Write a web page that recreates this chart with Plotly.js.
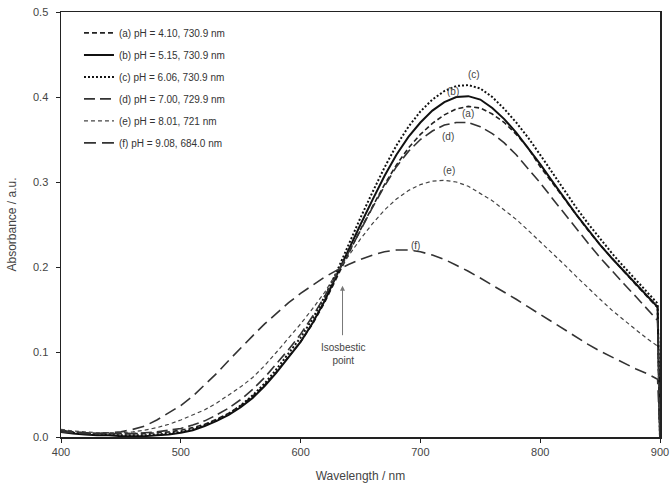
<!DOCTYPE html>
<html>
<head>
<meta charset="utf-8">
<script src="https://cdn.plot.ly/plotly-3.0.1.min.js"></script>
<style>html,body{margin:0;padding:0;background:#fff;}#chart{width:671px;height:483px;}</style>
</head>
<body>
<div id="chart"></div>
<script>
// Wavelength grid (nm)
const wavelength = [400,410,420,430,440,450,460,470,480,490,500,510,520,530,540,550,560,570,580,590,600,610,620,630,640,650,660,670,680,690,700,710,720,730,740,750,760,770,780,790,800,810,820,830,840,850,860,870,880,890,898,900];

// (a) pH 4.10
const absA = [0.008,0.006,0.005,0.004,0.004,0.004,0.004,0.004,0.005,0.006,0.008,0.011,0.015,0.021,0.028,0.037,0.048,0.061,0.077,0.094,0.112,0.133,0.158,0.187,0.216,0.244,0.271,0.297,0.320,0.340,0.356,0.369,0.379,0.386,0.389,0.387,0.380,0.370,0.356,0.340,0.318,0.299,0.280,0.261,0.243,0.226,0.210,0.194,0.179,0.164,0.152,0];
// (b) pH 5.15
const absB = [0.006,0.004,0.003,0.002,0.002,0.001,0.001,0.001,0.002,0.003,0.005,0.008,0.013,0.019,0.026,0.035,0.046,0.060,0.076,0.094,0.112,0.134,0.160,0.190,0.221,0.250,0.279,0.307,0.332,0.353,0.370,0.384,0.394,0.400,0.401,0.397,0.387,0.374,0.358,0.340,0.321,0.301,0.281,0.262,0.244,0.226,0.210,0.195,0.180,0.166,0.153,0];
// (c) pH 6.06
const absC = [0.007,0.005,0.004,0.003,0.003,0.002,0.002,0.002,0.003,0.004,0.006,0.009,0.014,0.020,0.027,0.037,0.049,0.063,0.080,0.098,0.117,0.139,0.165,0.194,0.227,0.258,0.288,0.317,0.343,0.365,0.383,0.397,0.407,0.413,0.414,0.410,0.400,0.386,0.370,0.352,0.332,0.311,0.290,0.270,0.251,0.233,0.216,0.200,0.185,0.170,0.157,0];
// (d) pH 7.00
const absD = [0.008,0.006,0.005,0.004,0.004,0.004,0.004,0.005,0.006,0.008,0.010,0.014,0.019,0.026,0.034,0.044,0.056,0.070,0.086,0.103,0.121,0.142,0.165,0.191,0.216,0.243,0.270,0.295,0.318,0.336,0.350,0.360,0.367,0.370,0.370,0.365,0.357,0.346,0.332,0.316,0.299,0.281,0.263,0.245,0.228,0.211,0.195,0.180,0.165,0.150,0.137,0];
// (e) pH 8.01
const absE = [0.009,0.007,0.006,0.005,0.005,0.005,0.006,0.008,0.011,0.015,0.020,0.026,0.032,0.040,0.049,0.059,0.070,0.084,0.100,0.116,0.133,0.151,0.170,0.193,0.213,0.233,0.251,0.267,0.280,0.290,0.297,0.301,0.302,0.300,0.295,0.287,0.278,0.267,0.256,0.243,0.230,0.217,0.203,0.189,0.175,0.162,0.149,0.137,0.126,0.115,0.107,0];
// (f) pH 9.08
const absF = [0.006,0.005,0.004,0.004,0.005,0.006,0.009,0.013,0.020,0.028,0.037,0.048,0.061,0.075,0.090,0.105,0.119,0.133,0.146,0.158,0.169,0.179,0.188,0.196,0.203,0.209,0.214,0.218,0.220,0.220,0.218,0.214,0.209,0.202,0.195,0.187,0.179,0.171,0.162,0.153,0.144,0.135,0.126,0.117,0.109,0.101,0.094,0.087,0.080,0.074,0.068,0];

const seriesNames = ["(a) pH = 4.10, 730.9 nm","(b) pH = 5.15, 730.9 nm","(c) pH = 6.06, 730.9 nm","(d) pH = 7.00, 729.9 nm","(e) pH = 8.01, 721 nm","(f) pH = 9.08, 684.0 nm"];
const curveLabels = ["(a)","(b)","(c)","(d)","(e)","(f)"];
const labelX = [739.5,727,744.5,722.7,723.6,696];
const labelY = [0.381,0.406,0.427,0.354,0.313,0.225];

const xTicks = [400,500,600,700,800,900];
const yTicks = [0.0,0.1,0.2,0.3,0.4,0.5];

const isoX = 635;
const isoTipY = 0.178;
const isoTailY = 0.118;
const isoTextY = 0.098;

const ys = [absA,absB,absC,absD,absE,absF];
const styles = [
  {color:'#222', width:1.6, dash:'5px,3px'},
  {color:'#111', width:2.0, dash:'solid'},
  {color:'#111', width:2.0, dash:'2px,2px'},
  {color:'#333', width:1.6, dash:'11px,5px'},
  {color:'#444', width:1.2, dash:'4px,3px'},
  {color:'#333', width:1.6, dash:'12px,6px'}
];

const traces = ys.map((y,i)=>({
  x: wavelength, y: y, type:'scatter', mode:'lines',
  name: seriesNames[i], legendgroup: 'g'+i,
  line: Object.assign({shape:'linear'}, styles[i]),
  hoverinfo:'skip'
}));

const FF = 'Liberation Sans, Arial, sans-serif';
const annotations = curveLabels.map((t,i)=>({
  x: labelX[i], y: labelY[i], xref:'x', yref:'y', text:t, showarrow:false,
  font:{family:FF, size:10, color:'#444'}
}));
annotations.push({
  x: isoX, y: isoTipY, ax: isoX, ay: isoTailY, xref:'x', yref:'y', axref:'x', ayref:'y',
  text:'', showarrow:true, arrowhead:2, arrowsize:1, arrowwidth:1, arrowcolor:'#777'
});
annotations.push({
  x: isoX, y: isoTextY, xref:'x', yref:'y', text:'Isosbestic<br>point', showarrow:false,
  font:{family:FF, size:10, color:'#444'}
});

const layout = {
  width:671, height:483,
  margin:{l:61, r:11, t:12, b:46},
  paper_bgcolor:'#fff', plot_bgcolor:'#fff',
  font: {family:FF, size:11, color:'#444'},
  showlegend:true,
  legend:{x:0.03, y:0.985, xanchor:'left', yanchor:'top', bgcolor:'rgba(0,0,0,0)',
    font:{family:FF, size:10, color:'#333'},
    traceorder:'grouped', tracegroupgap:3, itemwidth:30},
  xaxis:{range:[400,900], tickvals:xTicks, ticktext:xTicks.map(String), ticks:'outside', ticklen:4,
    tickcolor:'#222', showline:true, linecolor:'#222', linewidth:1.5, mirror:true,
    showgrid:false, zeroline:false,
    title:{text:'Wavelength / nm', font:{family:FF, size:12, color:'#444'}, standoff:17}},
  yaxis:{range:[0,0.5], tickvals:yTicks, ticktext:yTicks.map(v=>v.toFixed(1)), ticks:'outside', ticklen:4,
    ticklabelstandoff:5,
    tickcolor:'#222', showline:true, linecolor:'#222', linewidth:1.5, mirror:true,
    showgrid:false, zeroline:false,
    title:{text:'Absorbance / a.u.', font:{family:FF, size:12, color:'#444'}, standoff:14}},
  annotations: annotations
};

Plotly.newPlot('chart', traces, layout, {staticPlot:true, displayModeBar:false});
</script>
</body>
</html>
